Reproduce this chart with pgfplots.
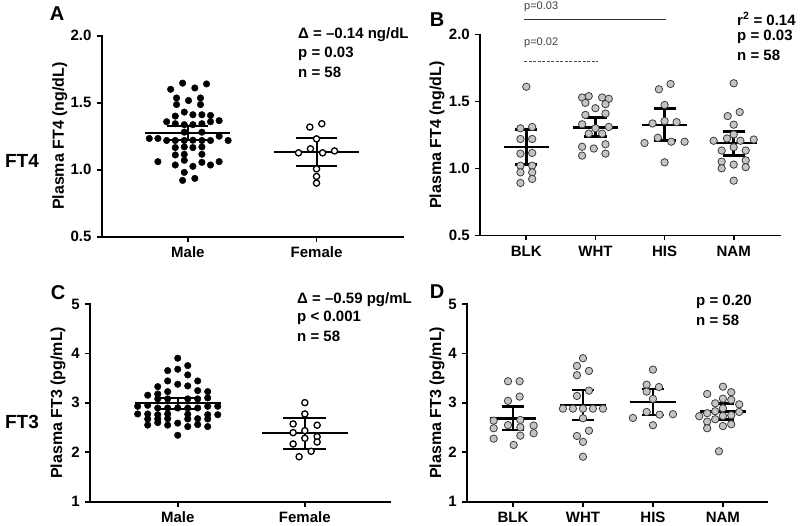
\documentclass[border=0pt]{standalone}
\usepackage{pgfplots}
\pgfplotsset{compat=1.18}
\usepackage{fontspec}
\setmainfont{Liberation Sans}
\definecolor{dotgray}{RGB}{196,196,196}
\definecolor{edgegray}{RGB}{60,60,60}
\begin{document}
\fontsize{15}{18}\selectfont
\begin{tikzpicture}[x=1pt,y=1pt]
\useasboundingbox (0,0) rectangle (800,526);
\pgfplotsset{
  panel/.style={
    scale only axis,
    axis lines=left,
    axis line style={-, line width=1.8pt, line cap=rect},
    every tick/.style={line width=1.8pt, black},
    major tick length=5pt,
    tick align=outside,
    /pgf/number format/assume math mode=true,
    tick label style={font=\bfseries\fontsize{15}{18}\selectfont},
    ylabel style={font=\bfseries\fontsize{16}{19}\selectfont},
    clip=false,
    xtick={0,1,2,3},
  },
  maledot/.style={only marks, mark=*, mark size=3.3pt, mark options={fill=black, draw=black}},
  femdot/.style={only marks, mark=*, mark size=3.1pt, mark options={fill=white, draw=black, line width=1.3pt}},
  graydot/.style={only marks, mark=*, mark size=3.7pt, mark options={fill=dotgray, draw=edgegray, line width=0.8pt}},
  eb/.style={black, no marks, line width=2pt},
  ebt/.style={black, no marks, line width=2.6pt},
}
% ---------------- Panel A ----------------
\begin{axis}[panel, at={(101.7pt,289.3pt)}, anchor=south west, width=301pt, height=201pt,
  xmin=-0.67, xmax=1.67, ymin=0.5, ymax=2.0,
  ytick={0.5,1.0,1.5,2.0}, yticklabel style={/pgf/number format/.cd, fixed, fixed zerofill, precision=1},
  xticklabels={Male,Female},
  ylabel={Plasma FT4 (ng/dL)}, ylabel style={at={(axis description cs:-0.139,0.5)}, anchor=center}]
\addplot[maledot] table[row sep=\\]{
x y\\
-0.041 1.646\\ 0.145 1.64\\ -0.134 1.60\\ 0.054 1.61\\ -0.088 1.535\\ 0.098 1.535\\ 0.005 1.516\\
-0.088 1.486\\ 0.098 1.486\\ -0.028 1.43\\ -0.098 1.40\\ 0.039 1.41\\ 0.109 1.41\\ 0.176 1.405\\
-0.165 1.358\\ -0.098 1.343\\ -0.028 1.336\\ 0.039 1.336\\ 0.109 1.343\\ 0.176 1.358\\ 0.243 1.366\\
-0.028 1.28\\ 0.109 1.28\\ -0.30 1.233\\ -0.233 1.233\\ -0.165 1.218\\ -0.098 1.218\\ -0.028 1.218\\
0.039 1.22\\ 0.109 1.218\\ 0.176 1.218\\ 0.243 1.25\\ 0.313 1.218\\ -0.098 1.165\\ -0.028 1.17\\
0.039 1.165\\ 0.109 1.17\\ -0.098 1.11\\ -0.028 1.115\\ 0.109 1.115\\ -0.233 1.06\\ -0.098 1.035\\
-0.028 1.07\\ 0.039 1.025\\ 0.109 1.055\\ 0.176 1.035\\ 0.243 1.06\\ -0.028 0.98\\ -0.041 0.92\\ 0.054 0.935\\
};
\addplot[femdot] table[row sep=\\]{
x y\\
0.948 1.318\\ 1.041 1.343\\ 1 1.23\\ 0.86 1.126\\ 0.953 1.156\\ 1.047 1.126\\ 1.14 1.14\\ 1 1.006\\ 1 0.95\\ 1 0.90\\
};
\addplot[eb] coordinates {(-0.33,1.276) (0.33,1.276)};
\addplot[eb] coordinates {(0,1.22) (0,1.325)};
\addplot[eb] coordinates {(-0.16,1.22) (0.16,1.22)};
\addplot[eb] coordinates {(-0.16,1.325) (0.16,1.325)};
\addplot[eb] coordinates {(0.67,1.13) (1.33,1.13)};
\addplot[eb] coordinates {(1,1.025) (1,1.233)};
\addplot[eb] coordinates {(0.84,1.025) (1.16,1.025)};
\addplot[eb] coordinates {(0.84,1.233) (1.16,1.233)};
\end{axis}
% ---------------- Panel B ----------------
\begin{axis}[panel, at={(480pt,290.5pt)}, anchor=south west, width=300pt, height=201pt,
  xmin=-0.67, xmax=3.67, ymin=0.5, ymax=2.0,
  ytick={0.5,1.0,1.5,2.0}, yticklabel style={/pgf/number format/.cd, fixed, fixed zerofill, precision=1},
  xticklabels={BLK,WHT,HIS,NAM},
  ylabel={Plasma FT4 (ng/dL)}, ylabel style={at={(axis description cs:-0.143,0.5)}, anchor=center}]
\addplot[graydot] table[row sep=\\]{
x y\\
0 1.61\\ -0.085 1.30\\ 0.085 1.31\\ -0.085 1.22\\ 0.085 1.22\\ -0.085 1.111\\ 0.085 1.116\\
-0.085 1.021\\ 0.085 1.021\\ -0.085 0.971\\ 0.085 0.971\\ -0.085 0.892\\ 0.085 0.922\\
};
\addplot[graydot] table[row sep=\\]{
x y\\
0.807 1.53\\ 0.903 1.54\\ 1.097 1.53\\ 1.193 1.52\\ 0.855 1.49\\ 1.145 1.48\\ 1 1.45\\
0.855 1.40\\ 1.145 1.41\\ 0.807 1.33\\ 1.193 1.31\\ 1 1.30\\ 0.903 1.26\\ 1.097 1.26\\
0.807 1.162\\ 0.976 1.149\\ 1.145 1.181\\ 0.807 1.096\\ 1.145 1.111\\
};
\addplot[graydot] table[row sep=\\]{
x y\\
1.918 1.591\\ 2.087 1.631\\ 2 1.474\\ 1.826 1.336\\ 2 1.354\\ 2.174 1.346\\ 1.903 1.229\\
2.097 1.20\\ 1.71 1.19\\ 2.29 1.20\\ 2 1.046\\
};
\addplot[graydot] table[row sep=\\]{
x y\\
3 1.636\\ 2.913 1.391\\ 3.087 1.421\\ 3 1.327\\ 3 1.254\\ 2.71 1.207\\ 2.903 1.224\\ 3.097 1.207\\
3.29 1.216\\ 3 1.159\\ 2.826 1.134\\ 3.174 1.134\\ 2.826 1.051\\ 3.174 1.061\\ 3 1.029\\
2.826 1.001\\ 3.174 1.01\\ 3 0.909\\
};
\addplot[ebt] coordinates {(-0.33,1.16) (0.33,1.16)};
\addplot[ebt] coordinates {(0,1.03) (0,1.29)};
\addplot[ebt] coordinates {(-0.16,1.03) (0.16,1.03)};
\addplot[ebt] coordinates {(-0.16,1.29) (0.16,1.29)};
\addplot[ebt] coordinates {(0.67,1.306) (1.33,1.306)};
\addplot[ebt] coordinates {(1,1.24) (1,1.38)};
\addplot[ebt] coordinates {(0.84,1.24) (1.16,1.24)};
\addplot[ebt] coordinates {(0.84,1.38) (1.16,1.38)};
\addplot[ebt] coordinates {(1.67,1.326) (2.33,1.326)};
\addplot[ebt] coordinates {(2,1.209) (2,1.447)};
\addplot[ebt] coordinates {(1.84,1.209) (2.16,1.209)};
\addplot[ebt] coordinates {(1.84,1.447) (2.16,1.447)};
\addplot[ebt] coordinates {(2.67,1.19) (3.33,1.19)};
\addplot[ebt] coordinates {(3,1.099) (3,1.276)};
\addplot[ebt] coordinates {(2.84,1.099) (3.16,1.099)};
\addplot[ebt] coordinates {(2.84,1.276) (3.16,1.276)};
\end{axis}
% ---------------- Panel C ----------------
\begin{axis}[panel, at={(90pt,24.3pt)}, anchor=south west, width=300pt, height=197.7pt,
  xmin=-0.69, xmax=1.67, ymin=1, ymax=5,
  ytick={1,2,3,4,5},
  xticklabels={Male,Female},
  ylabel={Plasma FT3 (pg/mL)}, ylabel style={at={(axis description cs:-0.107,0.5)}, anchor=center}]
\addplot[maledot] table[row sep=\\]{
x y\\
0 3.903\\ -0.079 3.652\\ 0 3.68\\ 0.079 3.753\\ 0.079 3.565\\ -0.079 3.443\\ 0 3.376\\ 0.157 3.443\\
-0.157 3.328\\ 0.079 3.342\\ 0.157 3.247\\ 0.236 3.227\\ -0.236 3.154\\ -0.157 3.18\\ -0.079 3.227\\
0.236 3.10\\ -0.157 3.08\\ -0.079 3.08\\ 0.079 3.08\\ 0.157 3.08\\
-0.315 2.93\\ -0.236 2.95\\ 0.236 2.93\\ 0.315 2.93\\
-0.157 2.896\\ -0.079 2.896\\ 0 2.896\\ 0.079 2.896\\ 0.157 2.896\\
-0.315 2.775\\ -0.236 2.775\\ -0.157 2.76\\ -0.079 2.775\\ 0.079 2.77\\ 0.236 2.76\\ 0.315 2.76\\
-0.236 2.674\\ -0.157 2.674\\ -0.079 2.68\\ 0.079 2.674\\ 0.157 2.68\\ 0.236 2.674\\
-0.236 2.55\\ -0.157 2.60\\ -0.079 2.55\\ 0 2.59\\ 0.079 2.52\\ 0.157 2.56\\ 0.236 2.52\\ 0 2.344\\
};
\addplot[femdot] table[row sep=\\]{
x y\\
1 3.004\\ 1 2.775\\ 0.908 2.573\\ 1.097 2.547\\ 0.908 2.397\\ 1 2.437\\ 1.097 2.316\\ 1 2.283\\
0.908 2.168\\ 1.097 2.208\\ 1.05 2.02\\ 0.955 1.91\\
};
\addplot[eb] coordinates {(-0.338,2.99) (0.338,2.99)};
\addplot[eb] coordinates {(0,2.87) (0,3.10)};
\addplot[eb] coordinates {(-0.17,2.87) (0.17,2.87)};
\addplot[eb] coordinates {(-0.17,3.10) (0.17,3.10)};
\addplot[eb] coordinates {(0.662,2.385) (1.338,2.385)};
\addplot[eb] coordinates {(1,2.073) (1,2.69)};
\addplot[eb] coordinates {(0.83,2.073) (1.17,2.073)};
\addplot[eb] coordinates {(0.83,2.69) (1.17,2.69)};
\end{axis}
% ---------------- Panel D ----------------
\begin{axis}[panel, at={(467pt,24.3pt)}, anchor=south west, width=300pt, height=197.7pt,
  xmin=-0.657, xmax=3.63, ymin=1, ymax=5,
  ytick={1,2,3,4,5},
  xticklabels={BLK,WHT,HIS,NAM},
  ylabel={Plasma FT3 (pg/mL)}, ylabel style={at={(axis description cs:-0.1,0.5)}, anchor=center}]
\addplot[graydot] table[row sep=\\]{
x y\\
-0.071 3.437\\ 0.095 3.437\\ -0.071 3.04\\ 0.095 3.126\\ -0.276 2.64\\ -0.071 2.55\\ 0.105 2.654\\
0.295 2.54\\ -0.276 2.486\\ 0.105 2.506\\ 0.295 2.385\\ -0.276 2.275\\ 0.105 2.336\\ 0.01 2.148\\
};
\addplot[graydot] table[row sep=\\]{
x y\\
1 3.903\\ 0.914 3.747\\ 1.086 3.646\\ 0.914 3.559\\ 0.914 3.14\\ 1.086 3.247\\ 0.714 2.883\\
0.857 2.883\\ 1 2.883\\ 1.143 2.883\\ 1.286 2.883\\ 1 2.688\\ 1.086 2.437\\ 0.914 2.33\\ 1 2.21\\ 1 1.91\\
};
\addplot[graydot] table[row sep=\\]{
x y\\
2 3.672\\ 1.91 3.368\\ 2.086 3.32\\ 1.91 3.227\\ 2 3.08\\ 1.91 2.816\\ 2.095 2.761\\ 2.286 2.77\\
1.714 2.694\\ 2 2.547\\
};
\addplot[graydot] table[row sep=\\]{
x y\\
3 3.328\\ 2.775 3.18\\ 3.119 3.215\\ 3 3.085\\ 3.119 3.06\\ 2.89 2.99\\ 3.233 2.97\\ 2.775 2.79\\
2.89 2.83\\ 3 2.89\\ 3.233 2.816\\ 2.661 2.73\\ 3 2.735\\ 3.119 2.75\\ 2.775 2.62\\ 2.89 2.668\\
2.775 2.486\\ 3 2.53\\ 3.119 2.567\\ 2.943 2.02\\
};
\addplot[ebt] coordinates {(-0.33,2.68) (0.33,2.68)};
\addplot[ebt] coordinates {(0,2.45) (0,2.92)};
\addplot[ebt] coordinates {(-0.16,2.45) (0.16,2.45)};
\addplot[ebt] coordinates {(-0.16,2.92) (0.16,2.92)};
\addplot[ebt] coordinates {(0.67,2.957) (1.33,2.957)};
\addplot[ebt] coordinates {(1,2.654) (1,3.26)};
\addplot[ebt] coordinates {(0.84,2.654) (1.16,2.654)};
\addplot[ebt] coordinates {(0.84,3.26) (1.16,3.26)};
\addplot[ebt] coordinates {(1.67,3.018) (2.33,3.018)};
\addplot[ebt] coordinates {(2,2.755) (2,3.281)};
\addplot[ebt] coordinates {(1.84,2.755) (2.16,2.755)};
\addplot[ebt] coordinates {(1.84,3.281) (2.16,3.281)};
\addplot[ebt] coordinates {(2.67,2.83) (3.33,2.83)};
\addplot[ebt] coordinates {(3,2.668) (3,2.984)};
\addplot[ebt] coordinates {(2.84,2.668) (3.16,2.668)};
\addplot[ebt] coordinates {(2.84,2.984) (3.16,2.984)};
\end{axis}
% ---------------- annotations ----------------
\begin{scope}[every node/.style={font=\bfseries\fontsize{15}{18}\selectfont, anchor=west, inner sep=0pt}]
\node at (298,491) {Δ = –0.14 ng/dL};
\node at (298,472) {p = 0.03};
\node at (298,454) {n = 58};
\node at (737,507) {r\textsuperscript{2} = 0.14};
\node at (737,489) {p = 0.03};
\node at (737,471) {n = 58};
\node at (297,226) {Δ = –0.59 pg/mL};
\node at (297,208) {p < 0.001};
\node at (297,190) {n = 58};
\node at (696,224) {p = 0.20};
\node at (696,206) {n = 58};
\end{scope}
\begin{scope}[every node/.style={font=\bfseries\fontsize{20}{24}\selectfont, inner sep=0pt}]
\node at (57,512) {A};
\node at (437,506) {B};
\node at (58,233) {C};
\node at (437,234) {D};
\end{scope}
\begin{scope}[every node/.style={font=\bfseries\fontsize{19}{22}\selectfont, inner sep=0pt}]
\node at (22,365) {FT4};
\node at (22,104) {FT3};
\end{scope}
\node[anchor=west, inner sep=0pt, font=\fontsize{11}{13}\selectfont, text=black!75] at (524,519) {p=0.03};
\draw[black!80, line width=0.9pt] (524.3,506.7) -- (665.7,506.7);
\node[anchor=west, inner sep=0pt, font=\fontsize{11}{13}\selectfont, text=black!75] at (524,483) {p=0.02};
\draw[black!70, line width=0.9pt, dash pattern=on 3pt off 1.5pt] (524,465) -- (598,465);
\end{tikzpicture}
\end{document}
